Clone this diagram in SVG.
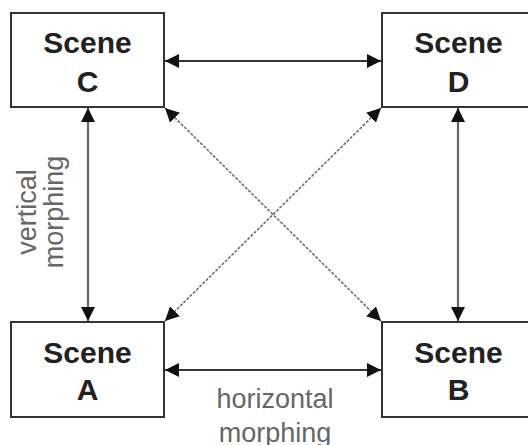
<svg xmlns="http://www.w3.org/2000/svg" width="528" height="445" viewBox="0 0 528 445">
<defs>
<marker id="ah" viewBox="0 0 14 14" refX="14" refY="7" markerWidth="14" markerHeight="14" markerUnits="userSpaceOnUse" orient="auto-start-reverse">
<path d="M0,0 L14,7 L0,14 Z" fill="#111"/>
</marker>
<style>
.box{fill:#fff;stroke:#333;stroke-width:2}
.title{font-family:"Liberation Sans",Arial,sans-serif;font-weight:bold;font-size:30px;fill:#222;text-anchor:middle}
.lbl{font-family:"Liberation Sans",Arial,sans-serif;font-size:27px;fill:#666;text-anchor:middle}
.h{stroke:#333;stroke-width:2;fill:none}
.v{stroke:#666;stroke-width:2.2;fill:none}
.d{stroke:#666;stroke-width:1.5;stroke-dasharray:3 1.5;fill:none}
</style>
</defs>
<rect width="528" height="445" fill="#fff"/>
<g id="sceneC">
<rect class="box" x="11" y="13" width="153" height="94"/>
<text class="title" x="87.5" y="53">Scene</text>
<text class="title" x="87.5" y="92">C</text>
</g>
<g id="sceneD">
<rect class="box" x="382" y="13" width="153" height="94"/>
<text class="title" x="458.5" y="53">Scene</text>
<text class="title" x="458.5" y="92">D</text>
</g>
<g id="sceneA">
<rect class="box" x="11" y="322" width="153" height="95"/>
<text class="title" x="87.5" y="363">Scene</text>
<text class="title" x="87.5" y="400">A</text>
</g>
<g id="sceneB">
<rect class="box" x="382" y="322" width="153" height="95"/>
<text class="title" x="458.5" y="363">Scene</text>
<text class="title" x="458.5" y="400">B</text>
</g>
<g id="connectors">
<line class="h" x1="165" y1="61" x2="381" y2="61" marker-start="url(#ah)" marker-end="url(#ah)"/>
<line class="h" x1="165" y1="370" x2="381" y2="370" marker-start="url(#ah)" marker-end="url(#ah)"/>
<line class="v" x1="88" y1="108" x2="88" y2="321" marker-start="url(#ah)" marker-end="url(#ah)"/>
<line class="v" x1="458" y1="108" x2="458" y2="321" marker-start="url(#ah)" marker-end="url(#ah)"/>
<line class="d" x1="165" y1="108" x2="381" y2="321" marker-start="url(#ah)" marker-end="url(#ah)"/>
<line class="d" x1="381" y1="108" x2="165" y2="321" marker-start="url(#ah)" marker-end="url(#ah)"/>
</g>
<g id="labels">
<text class="lbl" x="275" y="408">horizontal</text>
<text class="lbl" x="275" y="442">morphing</text>
<text class="lbl" transform="translate(36,212) rotate(-90)">vertical</text>
<text class="lbl" transform="translate(63,212) rotate(-90)">morphing</text>
</g>
</svg>
